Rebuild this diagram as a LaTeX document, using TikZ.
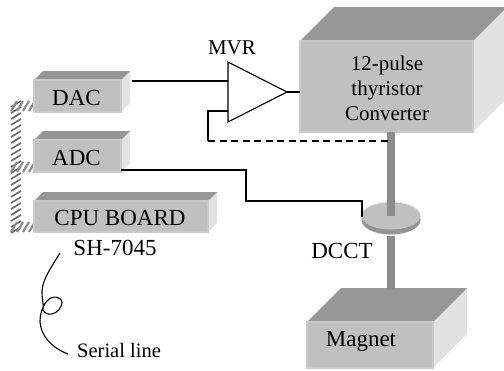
\documentclass[tikz,border=0pt]{standalone}
\usepackage{fontspec}
\setmainfont{Liberation Serif}
\usetikzlibrary{shapes.geometric,calc}
\definecolor{frontc}{HTML}{C0C0C0}
\definecolor{edgec}{HTML}{CACACA}
\definecolor{topc}{HTML}{969696}
\definecolor{sidec}{HTML}{E2E2E2}
\definecolor{barc}{HTML}{8C8C8C}
\newcommand{\boxface}[6]{% name, x1, y1, x2, y2, depth
  \fill[sidec] (#4,#3) -- (#4+#6,#3-#6) -- (#4+#6,#5-#6) -- (#4,#5) -- cycle;
  \fill[topc] (#2,#3) -- (#2+#6,#3-#6) -- (#4+#6,#3-#6) -- (#4,#3) -- cycle;
  \node[frontbox, minimum width=#4-#2, minimum height=#5-#3] (#1) at ({(#2+#4)/2},{(#3+#5)/2}) {};
}
\tikzset{
  frontbox/.style={fill=frontc, draw=edgec, line width=1.2pt, inner sep=0pt, outer sep=0pt, rectangle},
  lab/.style={inner sep=0pt, text=black, align=center},
  wire/.style={draw=black, line width=1.1pt},
  thickbar/.style={draw=barc, line width=7.5pt},
  hatch/.style={draw=black!60, line width=1.6pt},
  hatchb/.style={draw=black!45, line width=2.2pt}
}
\begin{document}
\begin{tikzpicture}[x=1pt,y=-1pt]
\useasboundingbox (0,0) rectangle (504,370);
% hatched bus
\foreach \y in {104,110,...,230} \draw[hatch] (11,\y+3) -- (21,\y-3);
\foreach \x in {14,20,26,32} {
  \draw[hatchb] (\x-3,111) -- (\x+3,101);
  \draw[hatchb] (\x-3,172) -- (\x+3,162);
  \draw[hatchb] (\x-3,232) -- (\x+3,222);
}
% boxes
\boxface{dac}{34}{80}{121}{112}{9}
\boxface{adc}{34}{140}{121}{172}{9}
\boxface{cpu}{34}{201}{208}{232}{9}
\boxface{conv}{300}{41}{473}{132}{34}
\boxface{magnet}{307}{322}{433}{368}{34}
\node[lab,font=\fontsize{23}{23}\selectfont] (dact) at (76.5,98) {DAC};
\node[lab,font=\fontsize{23}{23}\selectfont] (adct) at (76.5,158) {ADC};
\node[lab,font=\fontsize{23}{23}\selectfont] (cput) at (120,218) {CPU BOARD};
\node[lab,font=\fontsize{21}{25}\selectfont] (convt) at (387,88) {12-pulse\\thyristor\\Converter};
\node[lab,font=\fontsize{23}{23}\selectfont] (magt) at (361,341) {Magnet};
\node[lab,font=\fontsize{21}{21}\selectfont] (mvr) at (232,48) {MVR};
\node[lab,font=\fontsize{23}{23}\selectfont] (sh) at (115,248) {SH-7045};
\node[lab,font=\fontsize{23}{23}\selectfont] (dcct) at (342,251) {DCCT};
\node[lab,font=\fontsize{20.5}{21}\selectfont,anchor=west] (serial) at (77,350) {Serial line};
% disc and bars
\coordinate (barup) at (391,132);
\coordinate (barlow) at (391,236);
\coordinate (magtop) at (391,290);
\fill[white!92!black] (391,215) ellipse (29 and 14);
\fill[black!42] (391,220) ellipse (29.5 and 14.5);
\node[ellipse,fill=frontc,minimum width=59,minimum height=27,inner sep=0pt,outer sep=0pt] (disc) at (391,216) {};
\draw[thickbar] (barup) -- (disc.center);
\draw[thickbar] (barlow) -- (magtop);
% MVR amplifier
\coordinate (t1) at (228,62);
\coordinate (t2) at (228,122);
\coordinate (t3) at (287,92);
\coordinate (in1) at (228,81);
\coordinate (in2) at (228,111);
\coordinate (dacout) at (132,81);
\coordinate (adcout) at (121,170);
\coordinate (fbend) at (391,141);
\coordinate (convin) at (300,92);
\draw[wire,fill=white,line join=miter] (t1) -- (t3) -- (t2) -- cycle;
\draw[wire] (dacout) -- (in1);
\draw[wire] (t3) -- (convin);
\draw[wire] (in2) -- (208,111) -- (208,141);
\draw[wire,dash pattern=on 7pt off 4.5pt] (208,141) -- (fbend);
\draw[wire] (adcout) -- (246,170) -- (246,201) -- (362,201) -- (362,217);
% serial line
\draw[draw=black,line width=1.1pt] (60,253) .. controls (52,266) and (42,280) .. (42,292)
  .. controls (42,300) and (44,305) .. (43,310)
  .. controls (47,318) and (60,314) .. (62,303)
  .. controls (62,296) and (52,295) .. (47,301)
  .. controls (42,307) and (40,314) .. (40,322)
  .. controls (41,336) and (52,348) .. (68,354);
\end{tikzpicture}
\end{document}
